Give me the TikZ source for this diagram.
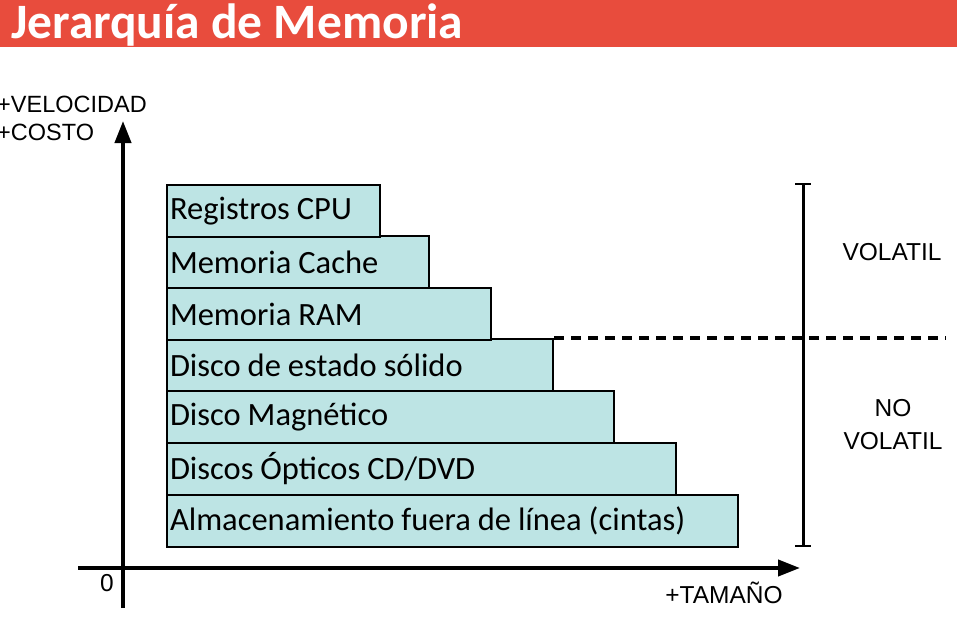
\documentclass[tikz,border=0pt]{standalone}
\usepackage{fontspec}
\setmainfont{Carlito}
\newfontfamily\lblfont{Liberation Sans}
\usetikzlibrary{arrows.meta}
\definecolor{titlered}{HTML}{E84C3D}
\definecolor{boxfill}{HTML}{BDE4E4}
\newcommand{\tightsp}{\spaceskip=7pt plus 1pt minus 1pt\relax}
\begin{document}
\begin{tikzpicture}[x=1pt,y=-1pt,
  membox/.style={draw=black, line width=2pt, fill=boxfill, anchor=north west,
    minimum height=52pt, inner xsep=3pt, inner ysep=0pt, align=left,
    font=\fontsize{32.5}{38}\selectfont, execute at begin node=\tightsp},
  lbl/.style={font=\lblfont\fontsize{24.5}{30}\selectfont, inner sep=0pt, align=center},
  axis/.style={line width=4pt, -{Triangle[length=22pt,width=16pt]}}
]
\useasboundingbox (0,0) rectangle (957,624);
\fill[titlered] (0,0) rectangle (957,47);
\node[anchor=west, text=white, inner sep=0pt, font=\bfseries\fontsize{49.5}{54}\selectfont] (title) at (11,25) {Jerarquía de Memoria};

% axes
\coordinate (ybot) at (123,608);
\coordinate (ytop) at (123,121);
\coordinate (xl) at (78,568);
\coordinate (xr) at (800,568);
\draw[axis] (ybot) -- (ytop);
\draw[axis] (xl) -- (xr);

\node[lbl, anchor=north west, font=\lblfont\fontsize{23.5}{30}\selectfont] (vel) at (-3,96) {+VELOCIDAD};
\node[lbl, anchor=north west, font=\lblfont\fontsize{23.5}{30}\selectfont] (cos) at (-3,124) {+COSTO};
\node[lbl] (zero) at (107,583) {0};
\node[lbl] (tam) at (724,593) {+TAMAÑO};

% boxes
\node[membox, text width=565pt] (r7) at (166,494) {Almacenamiento fuera de línea (cintas)};
\node[membox, text width=503pt] (r6) at (166,442) {Discos Ópticos CD/DVD};
\node[membox, text width=441pt] (r5) at (166,390) {Disco Magnético};
\node[membox, text width=380pt] (r4) at (166,338) {Disco de estado sólido};
\node[membox, text width=318pt] (r3) at (166,287) {Memoria RAM};
\node[membox, text width=256pt] (r2) at (166,235) {Memoria Cache};
\node[membox, text width=207pt] (r1) at (166,184) {Registros CPU};

% dashed separator
\coordinate (dend) at (946,338);
\draw[line width=3.5pt, dash pattern=on 10pt off 7pt] (r4.north east) -- (dend);

% bracket
\coordinate (bt) at (803,184);
\coordinate (bb) at (803,546);
\draw[line width=3pt] (bt) -- (bb);
\draw[line width=2.5pt] ([xshift=-8pt]bt) -- ([xshift=8pt]bt);
\draw[line width=2.5pt] ([xshift=-8pt]bb) -- ([xshift=8pt]bb);

\node[lbl] (vol) at (892,252) {VOLATIL};
\node[lbl] (novol) at (893,425) {NO\\[3pt]VOLATIL};
\end{tikzpicture}
\end{document}
